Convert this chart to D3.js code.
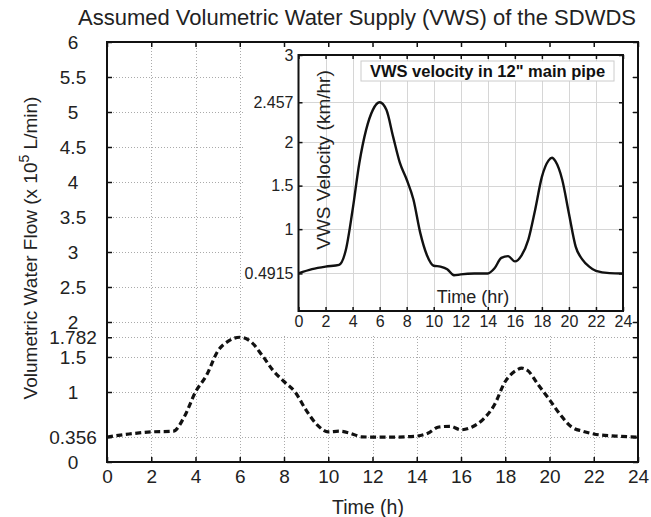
<!DOCTYPE html>
<html>
<head>
<meta charset="utf-8">
<script src="https://cdn.jsdelivr.net/npm/d3@7"></script>
<style>
  html, body { margin: 0; padding: 0; background: #fff; }
  svg { display: block; font-family: "Liberation Sans", Arial, Helvetica, sans-serif; }
</style>
</head>
<body>
<svg id="chart" width="651" height="517"></svg>
<script>
// Samples of the assumed supply over the day (flow, x10^5 L/min)
const hours = [0, 1, 2, 3, 3.5, 4, 4.5, 5, 5.5, 6, 6.5, 7, 7.5, 8, 8.5, 9, 9.5, 10, 10.5, 11, 11.5, 12, 13, 14, 14.5, 15, 15.5, 16, 16.5, 17, 17.5, 18, 18.5, 18.75, 19, 19.5, 20, 20.5, 21, 21.5, 22, 23, 24];
const flow = [0.356, 0.40, 0.43, 0.44, 0.65, 1.0, 1.24, 1.58, 1.73, 1.782, 1.72, 1.53, 1.31, 1.15, 1.0, 0.74, 0.53, 0.43, 0.44, 0.41, 0.36, 0.356, 0.356, 0.37, 0.41, 0.50, 0.51, 0.46, 0.50, 0.61, 0.81, 1.15, 1.31, 1.34, 1.31, 1.10, 0.89, 0.67, 0.50, 0.44, 0.40, 0.37, 0.356];
// Velocity of the same supply in the 12" main pipe (km/hr)
const velocity = [0.4915, 0.54, 0.57, 0.59, 0.76, 1.22, 1.76, 2.14, 2.37, 2.457, 2.37, 2.06, 1.76, 1.57, 1.34, 0.96, 0.70, 0.58, 0.57, 0.54, 0.47, 0.48, 0.49, 0.4915, 0.55, 0.67, 0.69, 0.63, 0.70, 0.88, 1.22, 1.60, 1.79, 1.82, 1.78, 1.57, 1.18, 0.80, 0.65, 0.57, 0.52, 0.495, 0.4915];

const xTicks = d3.range(0, 25, 2);
const flowTicks = [0, 0.356, 1, 1.5, 1.782, 2, 2.5, 3, 3.5, 4, 4.5, 5, 5.5, 6];
const velTicks = [0.4915, 1, 1.5, 2, 2.457, 3];

const FONT = "'Liberation Sans', Arial, Helvetica, sans-serif";
const svg = d3.select("#chart");

// ---- main axes ----
const M = { left: 107, right: 638, top: 42, bottom: 462 };
const x = d3.scaleLinear().domain([0, 24]).range([M.left, M.right]);
const y = d3.scaleLinear().domain([0, 6]).range([M.bottom, M.top]);

svg.append("text")
  .attr("x", 357).attr("y", 25)
  .attr("text-anchor", "middle")
  .attr("font-size", 22)
  .attr("fill", "#222")
  .text("Assumed Volumetric Water Supply (VWS) of the SDWDS");

// dotted grid
const grid = svg.append("g").attr("stroke", "#aaa").attr("stroke-width", 1).attr("stroke-dasharray", "1,2");
grid.selectAll("line.gx").data(xTicks.slice(1, -1)).join("line")
  .attr("x1", d => Math.round(x(d)) + 0.5).attr("x2", d => Math.round(x(d)) + 0.5)
  .attr("y1", M.top).attr("y2", M.bottom);
grid.selectAll("line.gy").data(flowTicks.slice(1, -1)).join("line")
  .attr("y1", d => Math.round(y(d)) + 0.5).attr("y2", d => Math.round(y(d)) + 0.5)
  .attr("x1", M.left).attr("x2", M.right);

// flow curve (dashed)
const flowLine = d3.line()
  .x((d, i) => x(hours[i]))
  .y(d => y(d))
  .curve(d3.curveMonotoneX);
svg.append("path")
  .datum(flow)
  .attr("fill", "none")
  .attr("stroke", "#111")
  .attr("stroke-width", 3.2)
  .attr("stroke-dasharray", "6,3.5")
  .attr("d", flowLine);

// white panel behind the inset
svg.append("rect")
  .attr("x", 243).attr("y", 46).attr("width", 388).attr("height", 290)
  .attr("fill", "#fff");

// main axes with inward ticks on all four sides
const mainAx = svg.append("g");
mainAx.append("g")
  .attr("transform", `translate(0,${M.bottom})`)
  .call(d3.axisBottom(x).tickValues(xTicks).tickSizeInner(-5).tickSizeOuter(0).tickPadding(8))
  .call(g => g.select(".domain").remove());
mainAx.append("g")
  .attr("transform", `translate(0,${M.top})`)
  .call(d3.axisTop(x).tickValues(xTicks).tickSizeInner(-5).tickSizeOuter(0).tickFormat(""))
  .call(g => g.select(".domain").remove());
mainAx.append("g")
  .attr("transform", `translate(${M.left},0)`)
  .call(d3.axisLeft(y).tickValues(flowTicks).tickSizeInner(-5).tickSizeOuter(0).tickFormat(d => String(d)))
  .call(g => g.select(".domain").remove())
  .call(g => g.selectAll(".tick text").attr("x", 73 - M.left).attr("text-anchor", "middle"));
mainAx.append("g")
  .attr("transform", `translate(${M.right},0)`)
  .call(d3.axisRight(y).tickValues(flowTicks).tickSizeInner(-5).tickSizeOuter(0).tickFormat(""))
  .call(g => g.select(".domain").remove());
mainAx.selectAll(".tick line").attr("stroke", "#111").attr("stroke-width", 1.5);
mainAx.selectAll(".tick text").attr("fill", "#222").attr("font-size", 19).attr("font-family", FONT);
svg.append("rect")
  .attr("x", M.left).attr("y", M.top)
  .attr("width", M.right - M.left).attr("height", M.bottom - M.top)
  .attr("fill", "none").attr("stroke", "#111").attr("stroke-width", 2);

// axis titles
svg.append("text")
  .attr("x", 368).attr("y", 514)
  .attr("text-anchor", "middle").attr("font-size", 19.5).attr("fill", "#222")
  .text("Time (h)");
const yl = svg.append("text")
  .attr("transform", "translate(37,248) rotate(-90)")
  .attr("text-anchor", "middle").attr("font-size", 19).attr("fill", "#222");
yl.append("tspan").text("Volumetric Water Flow (x 10");
yl.append("tspan").attr("dy", -8).attr("font-size", 14).text("5");
yl.append("tspan").attr("dy", 8).text(" L/min)");

// ---- inset axes ----
const I = { left: 298.5, right: 623, top: 55, bottom: 311 };
const xi = d3.scaleLinear().domain([0, 24]).range([I.left, I.right]);
const yi = d3.scaleLinear().domain([0.06, 3]).range([I.bottom, I.top]);

const igrid = svg.append("g").attr("stroke", "#d6d6d6").attr("stroke-width", 1);
igrid.selectAll("line.gx").data(xTicks.slice(1, -1)).join("line")
  .attr("x1", d => Math.round(xi(d)) + 0.5).attr("x2", d => Math.round(xi(d)) + 0.5)
  .attr("y1", I.top).attr("y2", I.bottom);
igrid.selectAll("line.gy").data(velTicks.slice(0, -1)).join("line")
  .attr("y1", d => Math.round(yi(d)) + 0.5).attr("y2", d => Math.round(yi(d)) + 0.5)
  .attr("x1", I.left).attr("x2", I.right);

const velLine = d3.line()
  .x((d, i) => xi(hours[i]))
  .y(d => yi(d))
  .curve(d3.curveMonotoneX);
svg.append("path")
  .datum(velocity)
  .attr("fill", "none")
  .attr("stroke", "#111")
  .attr("stroke-width", 2.4)
  .attr("d", velLine);

const inAx = svg.append("g");
inAx.append("g")
  .attr("transform", `translate(0,${I.bottom})`)
  .call(d3.axisBottom(xi).tickValues(xTicks).tickSizeInner(-4).tickSizeOuter(0).tickPadding(5))
  .call(g => g.select(".domain").remove());
inAx.append("g")
  .attr("transform", `translate(0,${I.top})`)
  .call(d3.axisTop(xi).tickValues(xTicks).tickSizeInner(-4).tickSizeOuter(0).tickFormat(""))
  .call(g => g.select(".domain").remove());
inAx.append("g")
  .attr("transform", `translate(${I.left},0)`)
  .call(d3.axisLeft(yi).tickValues(velTicks).tickSizeInner(-4).tickSizeOuter(0).tickPadding(5).tickFormat(d => String(d)))
  .call(g => g.select(".domain").remove());
inAx.append("g")
  .attr("transform", `translate(${I.right},0)`)
  .call(d3.axisRight(yi).tickValues(velTicks).tickSizeInner(-4).tickSizeOuter(0).tickFormat(""))
  .call(g => g.select(".domain").remove());
inAx.selectAll(".tick line").attr("stroke", "#111").attr("stroke-width", 1.5);
inAx.selectAll(".tick text").attr("fill", "#222").attr("font-size", 16).attr("font-family", FONT);
svg.append("rect")
  .attr("x", I.left).attr("y", I.top)
  .attr("width", I.right - I.left).attr("height", I.bottom - I.top)
  .attr("fill", "none").attr("stroke", "#111").attr("stroke-width", 2);

// inset legend box
svg.append("rect")
  .attr("x", 361).attr("y", 61).attr("width", 253).attr("height", 20)
  .attr("fill", "#fff").attr("stroke", "#ccc").attr("stroke-width", 1);
svg.append("text")
  .attr("x", 487.5).attr("y", 77)
  .attr("text-anchor", "middle").attr("font-size", 16.5).attr("font-weight", "bold").attr("fill", "#111")
  .text("VWS velocity in 12\" main pipe");

// inset axis titles, drawn inside the inset frame
svg.append("text")
  .attr("x", 473).attr("y", 303)
  .attr("text-anchor", "middle").attr("font-size", 18).attr("fill", "#222")
  .text("Time (hr)");
svg.append("text")
  .attr("transform", "translate(330,160) rotate(-90)")
  .attr("text-anchor", "middle").attr("font-size", 19).attr("fill", "#222")
  .text("VWS Velocity (km/hr)");
</script>
</body>
</html>
